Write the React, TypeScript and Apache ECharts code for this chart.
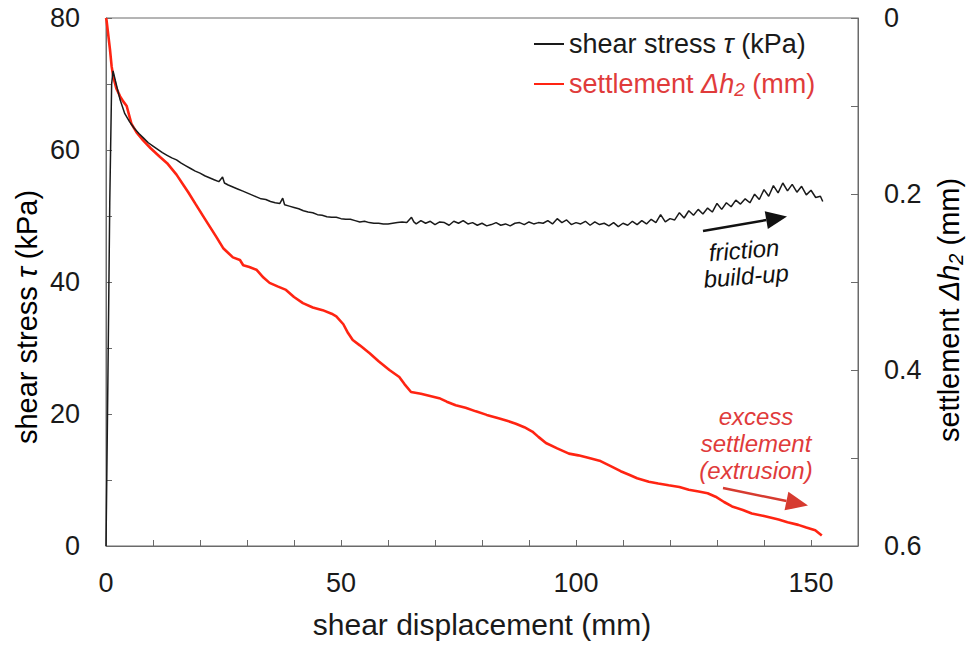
import React, { useEffect, useRef } from "react";
import * as echarts from "echarts";

// shear displacement (mm) vs shear stress tau (kPa)
const shearStress: [number, number][] = [
  [0, 0], [0.4, 25], [0.8, 52], [1.2, 70], [1.5, 72], [2, 70.5], [3, 67.6], [4, 65.5], [5, 64.3],
  [6, 63.3], [7, 62.5], [8, 61.8], [9, 61.1], [10, 60.6], [11, 60.1], [12, 59.6], [13, 59.2],
  [14, 58.8], [15, 58.5], [16, 58.0], [17, 57.6], [18, 57.2], [19, 56.8], [20, 56.5], [21, 56.1],
  [22, 55.8], [23, 55.5], [24, 55.2], [24.8, 55.9], [25.2, 55.0], [26, 54.7], [27, 54.4], [28, 54.1],
  [29, 53.8], [30, 53.5], [31, 53.2], [32, 52.9], [33, 52.6], [34, 52.5], [35, 52.2], [36, 52.0],
  [37, 51.9], [37.6, 52.7], [38, 51.7], [39, 51.5], [40, 51.3], [41, 51.1], [42, 50.8], [43, 50.6],
  [44, 50.5], [45, 50.2], [46, 50.1], [47, 49.9], [48, 49.8], [49, 49.8], [50, 49.6], [51, 49.5],
  [52, 49.5], [53, 49.3], [54, 49.1], [55, 49.2], [56, 49.0], [57, 48.9], [58, 48.9], [59, 48.8],
  [60, 48.8], [61, 48.9], [62, 49.0], [63, 49.1], [64, 49.0], [65, 49.8], [65.5, 49.1], [66, 48.8],
  [67, 49.3], [68, 48.9], [69, 49.2], [70, 48.7], [71, 49.1], [72, 49.0], [73, 48.6], [74, 49.2],
  [75, 48.9], [76, 49.3], [77, 48.8], [78, 49.0], [79, 48.6], [80, 48.9], [81, 48.5], [82, 48.7],
  [83, 49.0], [84, 48.6], [85, 48.8], [86, 48.5], [87, 48.9], [88, 49.0], [89, 48.7], [90, 49.1],
  [91, 48.8], [92, 49.0], [93, 48.9], [94, 49.3], [95, 48.8], [96, 49.6], [97, 49.0], [98, 49.4],
  [99, 48.7], [100, 49.0], [101, 48.8], [102, 49.2], [103, 48.6], [104, 49.1], [105, 48.7],
  [106, 48.9], [107, 48.5], [108, 49.0], [109, 48.4], [110, 48.9], [111, 48.6], [112, 49.2],
  [113, 48.7], [114, 49.3], [115, 48.8], [116, 49.5], [117, 49.0], [118, 50.2], [119, 49.1],
  [120, 49.6], [121, 49.4], [122, 50.5], [123, 49.7], [124, 50.8], [125, 50.1], [126, 51.0],
  [127, 50.3], [128, 51.2], [129, 50.6], [130, 51.9], [131, 51.0], [132, 52.0], [133, 51.4],
  [134, 52.4], [135, 51.8], [136, 52.6], [137, 52.0], [138, 53.3], [139, 52.5], [140, 54.0],
  [141, 53.0], [142, 54.6], [143, 53.5], [144, 55.0], [145, 53.8], [146, 54.8], [147, 53.6],
  [148, 54.5], [149, 53.2], [150, 53.9], [151, 52.8], [152, 53.0], [152.5, 52.2],
];

// shear displacement (mm) vs settlement dh2 (mm)
const settlement: [number, number][] = [
  [0, 0], [0.1, 0.002], [0.5, 0.02], [0.85, 0.036], [1.2, 0.055], [1.55, 0.067], [2.2, 0.08],
  [3.0, 0.089], [3.7, 0.095], [4.4, 0.1], [5.4, 0.12], [6.5, 0.13], [7.9, 0.139], [9.5, 0.148],
  [11.5, 0.158], [13, 0.165], [15, 0.178], [16.5, 0.19], [17.5, 0.198], [19, 0.211], [21, 0.228],
  [23.5, 0.249], [25, 0.262], [27, 0.272], [28.5, 0.275], [29.2, 0.281], [30.5, 0.283], [32, 0.286],
  [33.5, 0.295], [34.8, 0.301], [36.5, 0.305], [38.3, 0.309], [40, 0.317], [41.9, 0.324],
  [44, 0.329], [46.1, 0.332], [48, 0.336], [49, 0.339], [50.5, 0.348], [51.5, 0.358], [52.5, 0.366],
  [54, 0.372], [56.1, 0.381], [58, 0.39], [60.3, 0.4], [62.4, 0.408], [63.5, 0.416], [64.9, 0.425],
  [67, 0.427], [70.9, 0.432], [72.5, 0.436], [74.4, 0.44], [76.5, 0.443], [78.7, 0.447], [81, 0.451],
  [83.7, 0.455], [85.5, 0.458], [87.2, 0.461], [89, 0.465], [90.7, 0.47], [92, 0.476], [93.6, 0.483],
  [96, 0.489], [98.5, 0.495], [100.5, 0.497], [102.8, 0.5], [105, 0.503], [107.7, 0.51],
  [109.5, 0.515], [111.3, 0.519], [113, 0.523], [115.5, 0.527], [117.5, 0.529], [119.7, 0.531],
  [122, 0.533], [124, 0.536], [126.1, 0.538], [128, 0.54], [129.7, 0.544], [131.5, 0.55],
  [133.2, 0.555], [135.5, 0.559], [137.4, 0.563], [140, 0.566], [143.1, 0.57], [145, 0.573],
  [147.3, 0.576], [149, 0.579], [150.9, 0.582], [152.3, 0.588],
];

const FONT = "'Liberation Sans', Arial, Helvetica, sans-serif";
const INK = "#1a1a1a";
const AXIS = "#6a6a6a";
const RED_LINE = "#ff2412";
const RED_TEXT = "#e03b3b";
const RED_ARROW = "#d63b30";

function arrow(tail: number[], tip: number[], headLen: number, halfW: number, color: string, width: number) {
  const dx = tip[0] - tail[0];
  const dy = tip[1] - tail[1];
  const len = Math.sqrt(dx * dx + dy * dy);
  const ux = dx / len, uy = dy / len;
  const nx = -uy, ny = ux;
  const bx = tip[0] - ux * headLen, by = tip[1] - uy * headLen;
  return [
    { type: "line", shape: { x1: tail[0], y1: tail[1], x2: bx, y2: by }, style: { stroke: color, lineWidth: width } },
    {
      type: "polygon",
      shape: { points: [[tip[0], tip[1]], [bx + nx * halfW, by + ny * halfW], [bx - nx * halfW, by - ny * halfW]] },
      style: { fill: color },
    },
  ];
}

export default function App() {
  const ref = useRef<HTMLDivElement>(null);
  useEffect(() => {
    document.body.style.margin = "0";
    document.body.style.overflow = "hidden";
    const chart = echarts.init(ref.current!, null, { renderer: "svg", width: 969, height: 646 });
    const tickLabel = { fontSize: 27, color: INK, fontFamily: FONT };
    const nameRich = {
      n: { fontSize: 29, color: INK, fontFamily: FONT, lineHeight: 34 },
      ni: { fontSize: 29, color: INK, fontFamily: FONT, fontStyle: "italic", lineHeight: 34 },
      ns: { fontSize: 20, color: INK, fontFamily: FONT, fontStyle: "italic", lineHeight: 12, verticalAlign: "bottom" },
    };
    chart.setOption({
      animation: false,
      backgroundColor: "#ffffff",
      grid: { left: 106, right: 111, top: 18, bottom: 100, show: true, borderColor: AXIS, borderWidth: 1 },
      xAxis: {
        type: "value",
        min: 0,
        max: 160,
        interval: 10,
        axisLine: { show: true, lineStyle: { color: AXIS, width: 1 } },
        axisTick: { show: true, inside: true, length: 6, lineStyle: { color: AXIS } },
        splitLine: { show: false },
        axisLabel: { ...tickLabel, margin: 23, formatter: (v: number) => (v % 50 === 0 ? String(v) : "") },
        name: "shear displacement (mm)",
        nameLocation: "middle",
        nameGap: 63,
        nameTextStyle: { fontSize: 30, color: INK, fontFamily: FONT },
      },
      yAxis: [
        {
          type: "value",
          min: 0,
          max: 80,
          interval: 10,
          axisLine: { show: true, lineStyle: { color: AXIS, width: 1 } },
          axisTick: { show: true, inside: true, length: 6, lineStyle: { color: AXIS } },
          splitLine: { show: false },
          axisLabel: { ...tickLabel, margin: 26, formatter: (v: number) => (v % 20 === 0 ? String(v) : "") },
        },
        {
          type: "value",
          position: "right",
          min: 0,
          max: 0.6,
          interval: 0.1,
          inverse: true,
          axisLine: { show: true, lineStyle: { color: AXIS, width: 1 } },
          axisTick: { show: true, inside: true, length: 7, lineStyle: { color: AXIS } },
          splitLine: { show: false },
          axisLabel: {
            ...tickLabel,
            margin: 26,
            formatter: (v: number) => {
              const r = Math.round(v * 10);
              if (r % 2 !== 0) return "";
              return r === 0 ? "0" : (r / 10).toFixed(1);
            },
          },
        },
      ],
      legend: {
        orient: "vertical",
        left: 529,
        top: 24,
        itemWidth: 30,
        itemHeight: 2,
        itemGap: 10,
        data: [
          { name: "shear", icon: "rect" },
          { name: "settle", icon: "rect" },
        ],
        formatter: (name: string) =>
          name === "shear"
            ? "{b|shear stress }{bi|τ}{b| (kPa)}"
            : "{r|settlement }{ri|Δh}{rs|2}{r| (mm)}",
        textStyle: {
          fontSize: 27,
          fontFamily: FONT,
          lineHeight: 30,
          rich: {
            b: { fontSize: 27, color: INK, fontFamily: FONT, lineHeight: 30 },
            bi: { fontSize: 27, color: INK, fontFamily: FONT, fontStyle: "italic", lineHeight: 30 },
            r: { fontSize: 27, color: RED_TEXT, fontFamily: FONT, lineHeight: 30 },
            ri: { fontSize: 27, color: RED_TEXT, fontFamily: FONT, fontStyle: "italic", lineHeight: 30 },
            rs: { fontSize: 19, color: RED_TEXT, fontFamily: FONT, fontStyle: "italic", lineHeight: 12, verticalAlign: "bottom" },
          },
        },
      },
      series: [
        {
          type: "line",
          name: "shear",
          xAxisIndex: 0,
          yAxisIndex: 0,
          data: shearStress,
          symbol: "none",
          lineStyle: { color: INK, width: 1.5 },
          itemStyle: { color: INK },
          z: 3,
        },
        {
          type: "line",
          name: "settle",
          xAxisIndex: 0,
          yAxisIndex: 1,
          data: settlement,
          symbol: "none",
          lineStyle: { color: RED_LINE, width: 2.6 },
          itemStyle: { color: RED_LINE },
          z: 2,
        },
      ],
      graphic: [
        {
          type: "text",
          x: 27,
          y: 317,
          rotation: Math.PI / 2,
          style: {
            text: "{n|shear stress }{ni|τ}{n| (kPa)}",
            rich: nameRich,
            align: "center",
            verticalAlign: "middle",
          },
        },
        {
          type: "text",
          x: 949,
          y: 310,
          rotation: Math.PI / 2,
          style: {
            text: "{n|settlement }{ni|Δh}{ns|2}{n| (mm)}",
            rich: nameRich,
            align: "center",
            verticalAlign: "middle",
          },
        },
        ...arrow([703, 231], [787, 216.5], 21, 9, "#111111", 2.5),
        {
          type: "text",
          x: 745,
          y: 263,
          rotation: 0.08,
          style: {
            text: "friction\nbuild-up",
            fill: "#111111",
            font: `italic 24px ${FONT}`,
            align: "center",
            verticalAlign: "middle",
            lineHeight: 26,
          },
        },
        ...arrow([723, 488], [808, 505.5], 22, 9.5, RED_ARROW, 2.5),
        {
          type: "text",
          x: 756,
          y: 443,
          style: {
            text: "excess\nsettlement\n(extrusion)",
            fill: RED_TEXT,
            font: `italic 24px ${FONT}`,
            align: "center",
            verticalAlign: "middle",
            lineHeight: 27,
          },
        },
      ],
    });
    return () => chart.dispose();
  }, []);
  return <div ref={ref} style={{ position: "fixed", left: 0, top: 0, width: 969, height: 646 }} />;
}
